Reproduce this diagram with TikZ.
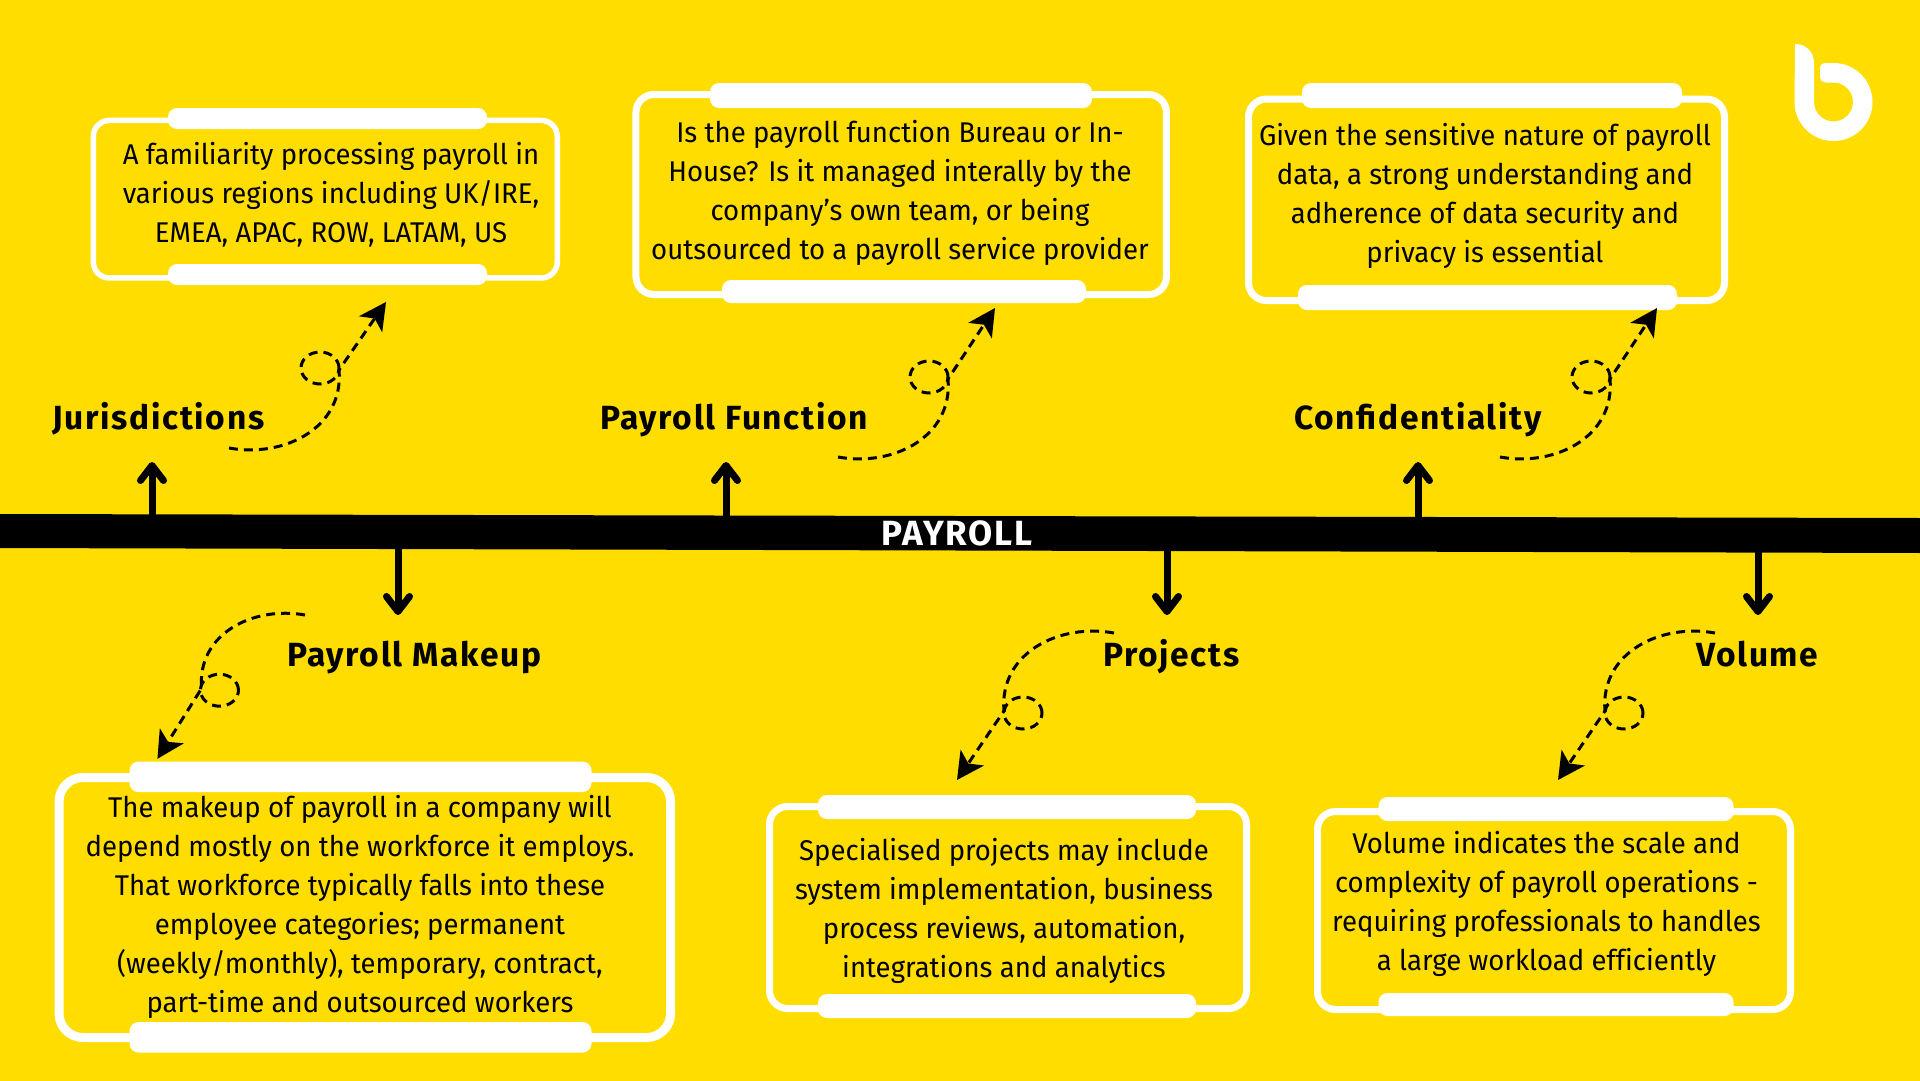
\documentclass[tikz,border=0pt]{standalone}
\usepackage{fontspec}
\setmainfont[FakeStretch=0.967, Ligatures=NoCommon]{Fira Sans}
\newfontfamily\titlefont[LetterSpace=5]{Fira Sans}
\usetikzlibrary{arrows.meta, calc}
\definecolor{PageYellow}{HTML}{FFDD00}
\tikzstyle{panel} = [rectangle, draw=white, inner sep=0pt, outer sep=0pt]
\tikzstyle{tab} = [rectangle, fill=white, rounded corners=9pt, inner sep=0pt, outer sep=0pt]
\tikzstyle{bodytext} = [align=center, inner sep=0pt, text=black, font=\fontsize{28.5}{39}\selectfont]
\tikzstyle{title} = [anchor=base west, inner sep=0pt, text=black, font=\titlefont\fontsize{33.5}{38}\selectfont\bfseries]
\tikzstyle{bararrow} = [line width=7pt, black, -{Straight Barb[length=15pt,width=23pt,round,line width=7pt]}]
\tikzstyle{dashline} = [line width=3pt, black, dash pattern=on 9pt off 6pt]
\tikzstyle{dasharrow} = [-{Stealth[length=27pt,width=28pt,inset=7pt]}]

\begin{document}
\begin{tikzpicture}[x=1pt, y=-1pt]
		\useasboundingbox (0,0) rectangle (1920,1080);
		\fill [PageYellow] (-3,-3) rectangle (1923,1083);
		% central bar
		\fill [black] (-3,514) -- (1923,518) -- (1923,553) -- (-3,548) -- cycle;
		\node (Bar) [inner sep=0pt, text=white, font=\titlefont\fontsize{35}{38}\selectfont\bfseries] at (957,533) {PAYROLL};
		% boxes, top row
		\node (JurisBox) [panel, line width=5.5pt, rounded corners=16pt, minimum width=464pt, minimum height=157.5pt] at (325.3,199.2) {};
		\node (JurisTabTop) [tab, minimum width=319pt, minimum height=21pt] at (327.5,118.5) {};
		\node (JurisTabBottom) [tab, minimum width=319pt, minimum height=21pt] at (327.5,274.5) {};
		\node (JurisText) [bodytext] at (331,194.5) {A familiarity processing payroll in\\various regions including UK/IRE,\\EMEA, APAC, ROW, LATAM, US};
		\node (FunctionBox) [panel, line width=7pt, rounded corners=18pt, minimum width=530.5pt, minimum height=200pt] at (901.2,194.5) {};
		\node (FunctionTabTop) [tab, minimum width=382pt, minimum height=25pt] at (901,95.5) {};
		\node (FunctionTabBottom) [tab, minimum width=364pt, minimum height=23pt] at (904,291.5) {};
		\node (FunctionText) [bodytext] at (900,193) {Is the payroll function Bureau or In-\\House? Is it managed interally by the\\company’s own team, or being\\outsourced to a payroll service provider};
		\node (SecureBox) [panel, line width=7pt, rounded corners=18pt, minimum width=476pt, minimum height=201.5pt] at (1486.5,199.8) {};
		\node (SecureTabTop) [tab, minimum width=380pt, minimum height=25pt] at (1492,95.5) {};
		\node (SecureTabBottom) [tab, minimum width=379pt, minimum height=25pt] at (1487.5,297.5) {};
		\node (SecureText) [bodytext] at (1485,195.5) {Given the sensitive nature of payroll\\data, a strong understanding and\\adherence of data security and\\privacy is essential};
		% boxes, bottom row
		\node (MakeupBox) [panel, line width=9pt, rounded corners=24pt, minimum width=611.5pt, minimum height=260pt] at (364.8,907.5) {};
		\node (MakeupTabTop) [tab, minimum width=462pt, minimum height=30.5pt] at (360.5,776.8) {};
		\node (MakeupTabBottom) [tab, minimum width=462pt, minimum height=30.5pt] at (360.5,1037.3) {};
		\node (MakeupText) [bodytext] at (360,907) {The makeup of payroll in a company will\\depend mostly on the workforce it employs.\\That workforce typically falls into these\\employee categories; permanent\\(weekly/monthly), temporary, contract,\\part-time and outsourced workers};
		\node (ProjectsBox) [panel, line width=7pt, rounded corners=18pt, minimum width=477pt, minimum height=202pt] at (1008,907.5) {};
		\node (ProjectsTabTop) [tab, minimum width=378pt, minimum height=24pt] at (1007,807) {};
		\node (ProjectsTabBottom) [tab, minimum width=378pt, minimum height=24pt] at (1007,1006) {};
		\node (ProjectsText) [bodytext] at (1004,910.5) {Specialised projects may include\\system implementation, business\\process reviews, automation,\\integrations and analytics};
		\node (VolumeBox) [panel, line width=7pt, rounded corners=18pt, minimum width=473pt, minimum height=198pt] at (1554,910.5) {};
		\node (VolumeTabTop) [tab, minimum width=355pt, minimum height=24pt] at (1556,809) {};
		\node (VolumeTabBottom) [tab, minimum width=355pt, minimum height=23pt] at (1556,1004.5) {};
		\node (VolumeText) [bodytext] at (1546.5,904) {Volume indicates the scale and\\complexity of payroll operations -\\requiring professionals to handles\\a large workload efficiently};
		% titles
		\node (JurisTitle) [title] at (52,429) {Jurisdictions};
		\node (FunctionTitle) [title] at (600,429) {Payroll Function};
		\node (SecureTitle) [title] at (1294,429) {Confidentiality};
		\node (MakeupTitle) [title] at (287,666) {Payroll Makeup};
		\node (ProjectsTitle) [title] at (1103,666) {Projects};
		\node (VolumeTitle) [title] at (1696,666) {Volume};
		% arrows off the bar
		\foreach \name/\x/\y in {Juris/152/462, Function/726/462, Secure/1418/462, Makeup/398/615, Projects/1167/615, Volume/1758/615} {
			\coordinate (\name Head) at (\x,\y);
			\draw [bararrow] (\name Head |- Bar) -- (\name Head);
		}
		% dashed loops
		\foreach \name/\x/\y/\s/\t in {Juris/229/448/1/146, Function/838/457/1/149, Secure/1500/457/1/149, Makeup/305/615/-0.94/153, Projects/1114/633/-1/147, Volume/1715/633/-1/147} {
			\coordinate (\name Start) at (\x,\y);
			\coordinate (\name Bend) at ($(\name Start)+(110*\s,-78*\s)$);
			\coordinate (\name Tip) at ($(\name Start)+(157*\s,-\t*\s)$);
			\coordinate (\name Loop) at ($(\name Start)+(91*\s,-80*\s)$);
			\draw [dashline, dasharrow] (\name Start) .. controls +(55*\s,10*\s) and +(5*\s,58*\s) .. (\name Bend) -- (\name Tip);
			\draw [dashline] (\name Loop) ellipse [x radius=19pt, y radius=16pt];
		}
		% logo
		\fill [white] (1795,44) .. controls (1806,44) and (1814,52) .. (1814,63) -- (1814,102) arc [start angle=180, end angle=450, radius=19.5pt] -- (1826,82.5) .. controls (1822,82.5) and (1820,80) .. (1820,76) -- (1820,69) .. controls (1820,65) and (1822,63) .. (1826,63) -- (1833.5,63) arc [start angle=90, end angle=-180, radius=39pt] -- cycle;
\end{tikzpicture}
\end{document}
